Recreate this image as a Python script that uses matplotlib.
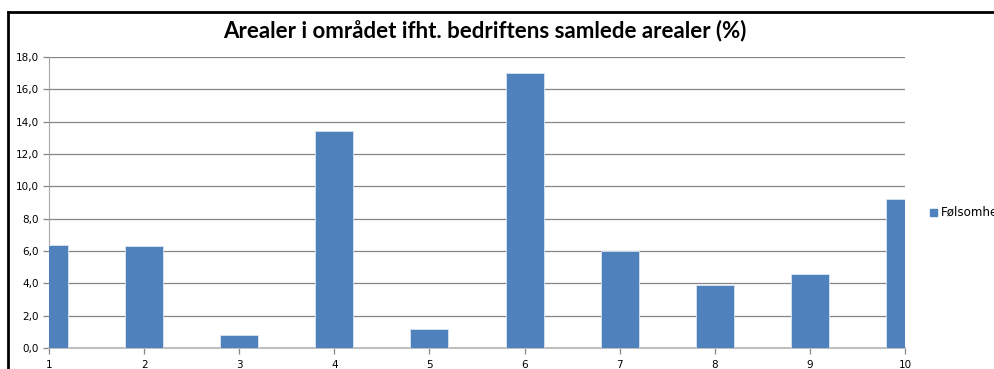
import matplotlib.pyplot as plt
from matplotlib.lines import Line2D
from matplotlib.patches import Rectangle

# andel av bedriftens samlede arealer per område
omraader = [1, 2, 3, 4, 5, 6, 7, 8, 9, 10]
andel = [6.4, 6.3, 0.8, 13.4, 1.2, 17.0, 6.0, 3.9, 4.6, 9.2]
serie = "Følsomhet"
y_ticks = [0, 2, 4, 6, 8, 10, 12, 14, 16, 18]

blue = "#4F81BD"

fig = plt.figure(figsize=(9.95, 3.69), dpi=100)

# ytre ramme: bare øvre og venstre kant er synlige
top = 1 - 12 / 369
left = 8 / 995
fig.lines.append(Line2D([left, 1.05], [top, top], transform=fig.transFigure,
                        color="black", linewidth=2))
fig.lines.append(Line2D([left, left], [-0.05, top], transform=fig.transFigure,
                        color="black", linewidth=2))

ax = fig.add_axes([49 / 995, 1 - 348 / 369, (905 - 49) / 995, (348 - 57) / 369])
ax.bar(omraader, andel, width=0.4, color=blue, edgecolor="#dbe5f1", linewidth=0.6,
       zorder=3)
ax.set_xlim(1, 10)
ax.set_ylim(0, 18)
ax.set_xticks(omraader)
ax.set_yticks(y_ticks)
ax.set_yticklabels([f"{v:.1f}".replace(".", ",") for v in y_ticks])
ax.grid(axis="y", color="#868686", linewidth=0.9, zorder=0)
for s in ["top", "right"]:
    ax.spines[s].set_visible(False)
ax.spines["left"].set_color("#a6a6a6")
ax.spines["bottom"].set_color("#bfbfbf")
ax.spines["bottom"].set_linewidth(1.5)
ax.tick_params(axis="both", colors="#868686", labelcolor="black", labelsize=7.5,
               length=4, width=0.9)
ax.tick_params(axis="x", pad=5)

fig.text(0.487, 1 - 31 / 369, "Arealer i området ifht. bedriftens samlede arealer (%)",
         ha="center", va="center", fontsize=16, fontweight="bold",
         family="Lato")

# forklaring, kuttet i høyre kant
fig.patches.append(Rectangle((930 / 995, 1 - 216 / 369), 7 / 995, 7 / 369,
                             transform=fig.transFigure, color=blue))
fig.text(941 / 995, 1 - 212 / 369, serie, ha="left", va="center", fontsize=8.6)

fig.savefig("out.png", dpi=100)
